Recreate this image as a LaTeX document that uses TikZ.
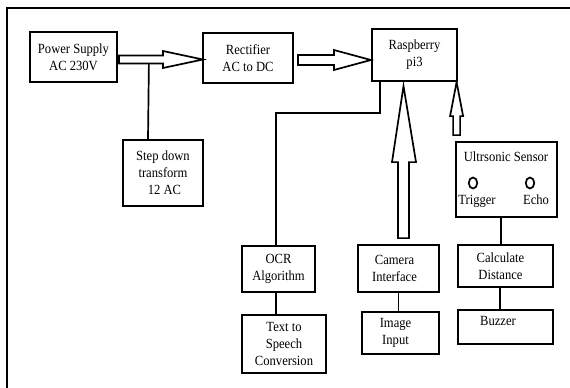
\documentclass[tikz,border=0pt]{standalone}
\usepackage{fontspec}
\setmainfont{Liberation Serif}[FakeStretch=0.9]
\usetikzlibrary{calc,shapes.geometric}
\begin{document}
\begin{tikzpicture}[x=1pt,y=-1pt,
  box/.style={draw, line width=1.8pt, inner sep=0pt, align=center, font=\fontsize{14}{17}\selectfont},
  ln/.style={line width=1.7pt},
  hollow/.style={draw, line width=1.7pt, fill=white, line join=miter},
  txt/.style={inner sep=0pt, font=\fontsize{14}{17}\selectfont},
  port/.style={draw, line width=1.7pt, ellipse, inner sep=0pt, minimum width=8.5pt, minimum height=11pt}]
\useasboundingbox (0,0) rectangle (570,388);
\draw[line width=2pt] (7,388) -- (7,8) -- (570,8);

% boxes
\node[box, minimum width=87pt, minimum height=50pt] (ps) at (73.5,57) {Power Supply\\AC 230V};
\node[box, minimum width=90pt, minimum height=50pt] (rect) at (248,58) {Rectifier\\AC to DC};
\node[box, minimum width=85pt, minimum height=52pt] (rpi) at (414.5,55) {Raspberry\\pi3};
\node[box, minimum width=80pt, minimum height=66pt] (step) at (163,173) {Step down\\transform\\\hspace{3pt}12 AC};
\node[box, minimum width=73pt, minimum height=46pt] (ocr) at (278.5,269) {OCR\\Algorithm};
\node[box, minimum width=84pt, minimum height=58pt] (tts) at (284,344) {Text to\\Speech\\Conversion};
\node[box, minimum width=81pt, minimum height=47pt] (cam) at (398.5,268.5) {\hspace{-8pt}Camera\\\hspace{-8pt}Interface};
\node[box, minimum width=77pt, minimum height=42pt] (img) at (400.5,333) {\hspace{-10pt}Image\\\hspace{-10pt}Input};
\node[box, minimum width=101pt, minimum height=75pt] (us) at (506.5,179.5) {};
\node[box, minimum width=95pt, minimum height=42pt] (calc) at (505.5,266) {\hspace{-10pt}Calculate\\\hspace{-10pt}Distance};
\node[box, minimum width=95pt, minimum height=34pt] (buz) at (505.5,327) {};

% texts inside ultrasonic sensor and buzzer
\node[txt, anchor=base] (ust) at (506,161) {Ultrsonic Sensor};
\node[port] (trig) at (473,183) {};
\node[port] (echo) at (530,183) {};
\node[txt, anchor=base] (trigt) at (477,204) {Trigger};
\node[txt, anchor=base] (echot) at (536,204) {Echo};
\node[txt, anchor=base] (buzt) at (498,325) {Buzzer};

% hollow block arrows
\draw[hollow] (ps.east) ++(1,-1.5) -- ++(44,0) -- ++(0,-4.5) -- ++(40,8.5)
  -- ++(-40,8.5) -- ++(0,-4.5) -- ++(-44,0) -- cycle;
\draw[hollow] (rect.east) ++(4,-3) -- ++(36,0) -- ++(0,-5) -- ++(37,10)
  -- ++(-37,10) -- ++(0,-5) -- ++(-36,0) -- cycle;
\draw[hollow] (cam.north) ++(-0.5,-6) -- ++(0,-76) -- ++(-6,0) -- ++(11.5,-76)
  -- ++(12.5,76) -- ++(-7,0) -- ++(0,76) -- cycle;
\draw[hollow] (us.north west) ++(-2,-6) -- ++(0,-19) -- ++(-3,0) -- ++(6.5,-34)
  -- ++(6.5,34) -- ++(-3,0) -- ++(0,19) -- cycle;

% plain connectors
\draw[ln] ($(ps.east)+(31,6.5)$) -- ($(step.north)+(-15,0)$);
\draw[ln] ($(rpi.south west)+(9,0)$) -- ++(0,31) -| ($(ocr.north)+(-2.5,0)$);
\draw[ln] ($(ocr.south)+(-2.5,0)$) -- ($(tts.north)+(-8,0)$);
\draw[ln] (cam.south) -- (cam.south |- img.north);
\draw[ln] ($(us.south)+(-5.5,0)$) -- ($(calc.north)+(-4.5,0)$);
\draw[ln] ($(calc.south)+(-5.5,0)$) -- ($(buz.north)+(-5.5,0)$);
\end{tikzpicture}
\end{document}
